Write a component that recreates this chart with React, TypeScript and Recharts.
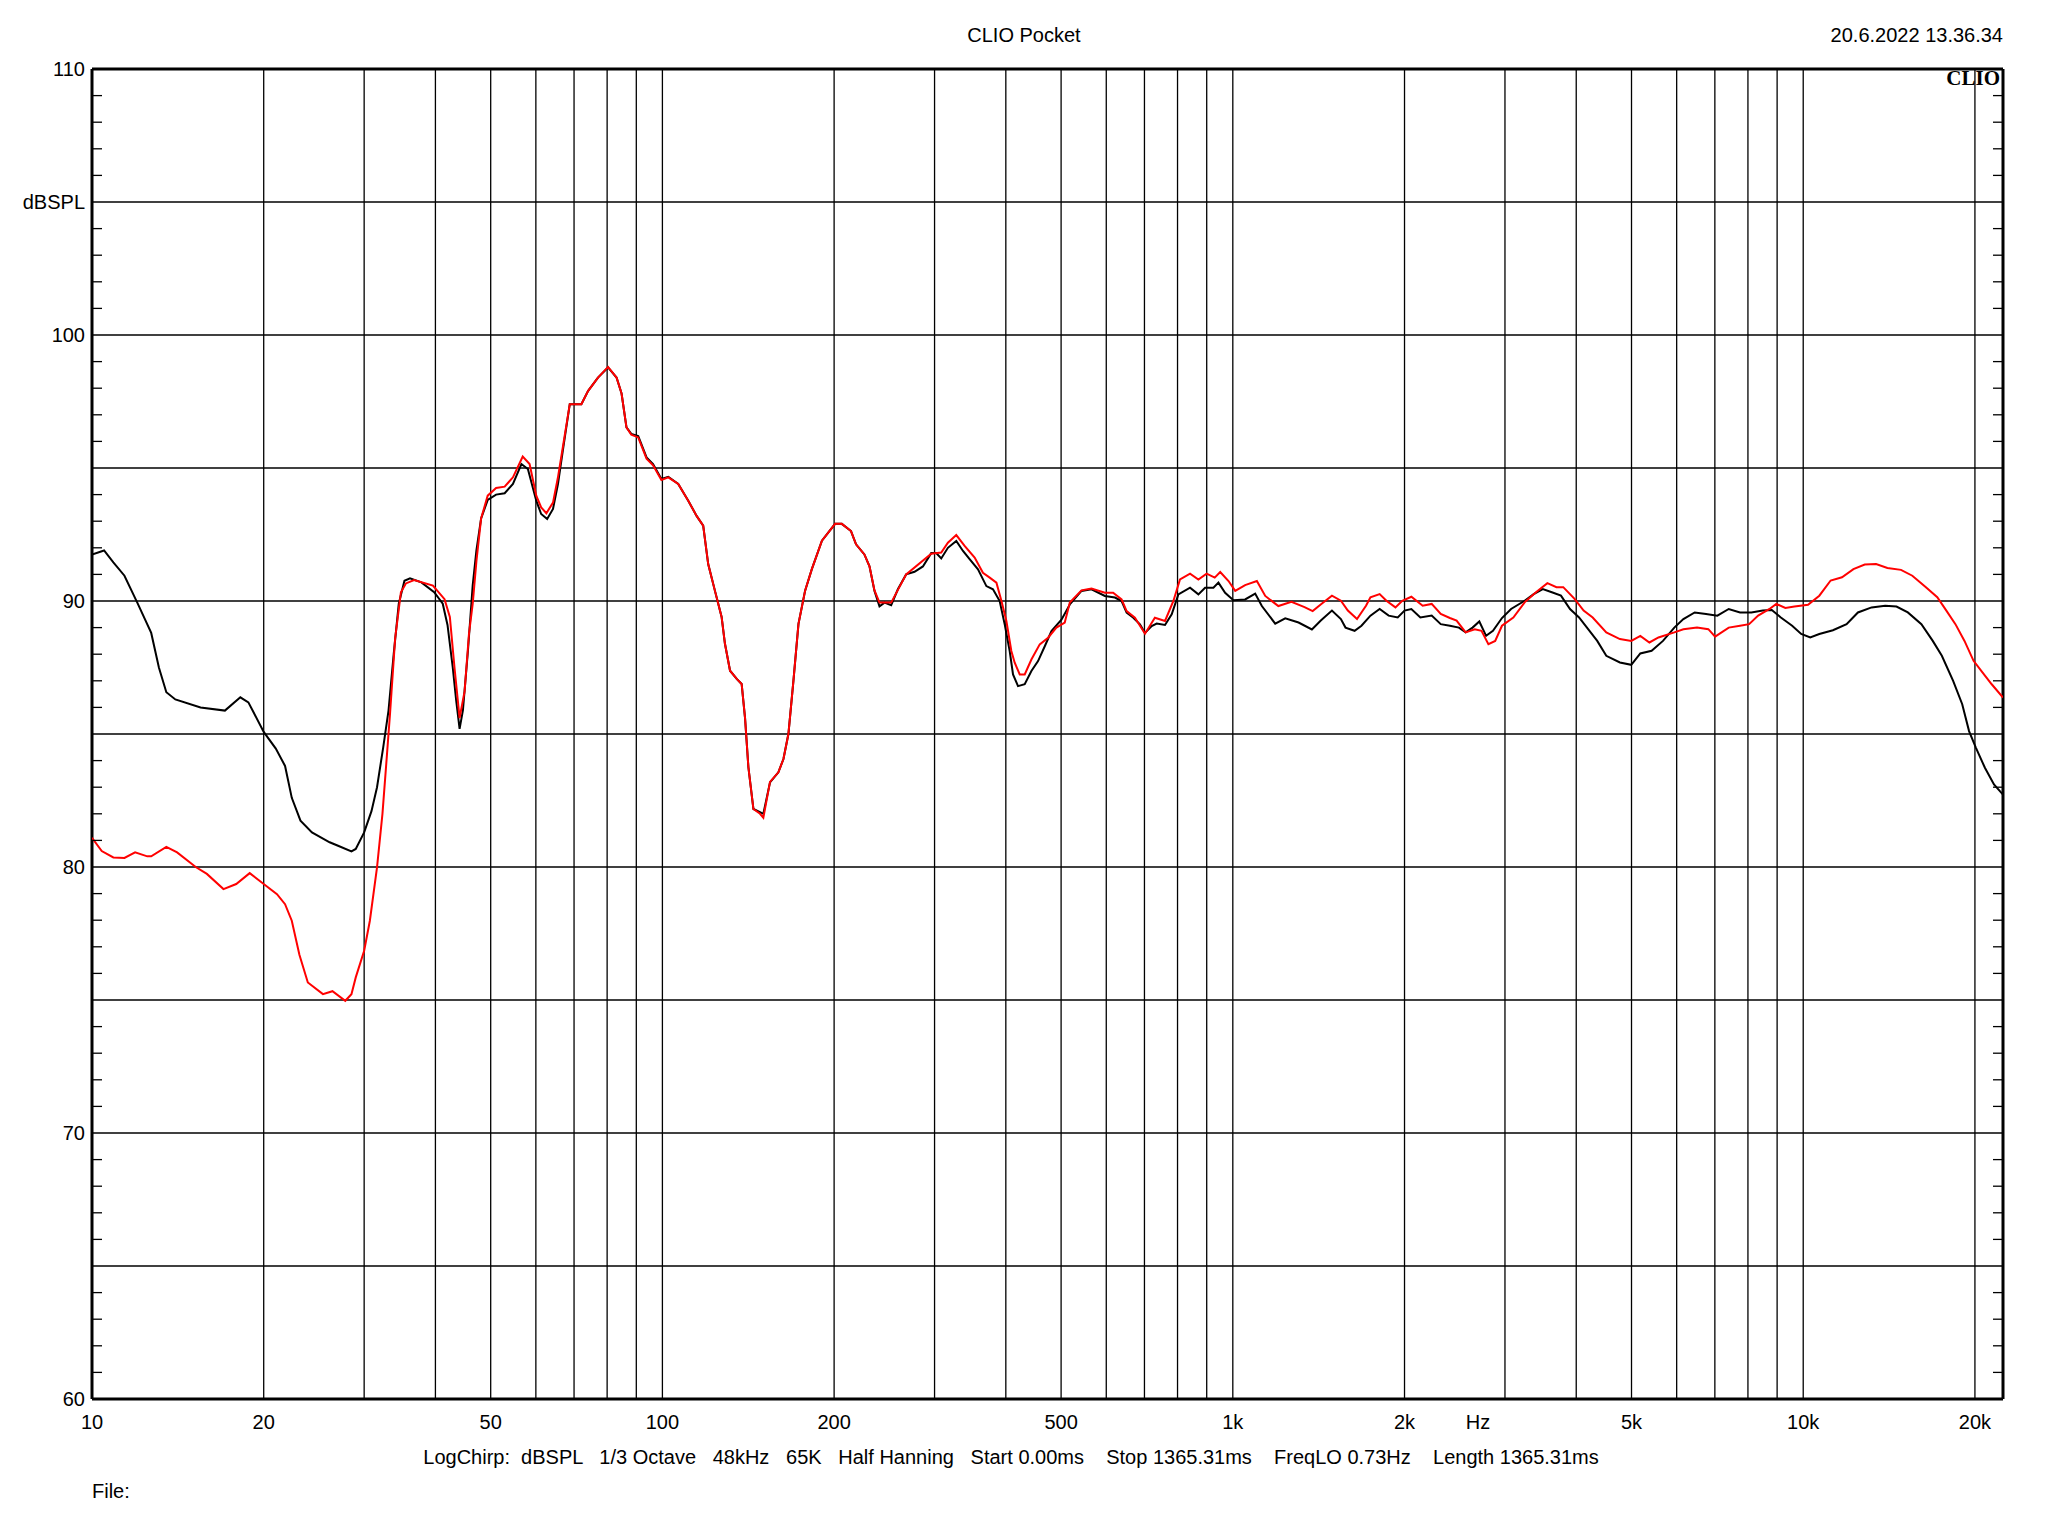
import React from "react"
import { LineChart, Line, XAxis, YAxis, ReferenceLine } from "recharts"

const blackFreq = [
  10, 10.5, 10.9, 11.4, 12.0, 12.7, 13.1, 13.5, 14.0, 15.5, 17.1, 18.2, 18.8, 20.0, 21.0, 21.8, 22.4, 23.2,
  24.3, 26.1, 27.0, 28.5, 29.0, 30.0, 30.9, 31.6, 32.4, 33.1, 33.8, 34.5, 35.3, 36.1, 37.8, 39.8, 41.2, 42.0,
  42.9, 43.5, 44.1, 44.7, 45.6, 46.5, 47.2, 48.1, 49.4, 51.1, 52.9, 54.7, 56.6, 58.1, 60.1, 61.3, 62.8, 64.3,
  65.6, 66.9, 68.8, 72.1, 74.1, 77.1, 80.3, 83.1, 84.8, 86.5, 88.2, 90.7, 93.8, 96.3, 99.6, 102.4, 106.6, 111,
  114.8, 117.9, 120.3, 123.6, 127, 128.7, 131.4, 135, 137.7, 139.6, 141.5, 144.4, 148.3, 150.3, 154.4, 159.7,
  163, 166.3, 169.7, 173.2, 177.9, 182.8, 190.4, 200.8, 206.3, 214.1, 218.5, 226, 230.7, 235.4, 240.2, 245.1,
  251.8, 258.7, 267.5, 276.7, 286.2, 296, 302, 308.2, 316.6, 327.5, 336.5, 345.6, 357.5, 369.8, 379.8, 390.2,
  398.2, 406.3, 411.8, 420.2, 431.7, 443.5, 455.6, 468.1, 480.9, 500.7, 517.9, 542.9, 565.3, 596.7, 621.4,
  638.3, 651.4, 669.2, 687.4, 701.5, 720.7, 735.4, 760.6, 781.4, 802.7, 841.5, 870.3, 894.1, 924.7, 943.6,
  969.4, 1002.6, 1051, 1094.5, 1124.4, 1186.7, 1235.7, 1304, 1376, 1425, 1492, 1547, 1576, 1635, 1681, 1743,
  1809, 1876, 1946, 2000, 2056, 2132, 2232, 2315, 2402, 2491, 2560, 2632, 2705, 2780, 2858, 2964, 3075, 3248,
  3369, 3495, 3625, 3761, 3901, 4046, 4197, 4354, 4516, 4771, 4995, 5181, 5423, 5677, 5943, 6165, 6453, 6755,
  7071, 7403, 7749, 8112, 8492, 8809, 9137, 9563, 9919, 10288, 10671, 11274, 11913, 12472, 13178, 13920,
  14572, 15255, 16114, 16869, 17500, 18316, 19000, 19531, 20074, 20822, 21600, 22400,
]
const blackSpl = [
  91.75, 91.9, 91.45, 90.95, 89.95, 88.8, 87.5, 86.57, 86.3, 86.0, 85.88, 86.38, 86.19, 85.08, 84.45, 83.8, 82.6, 81.74,
  81.3, 80.93, 80.8, 80.59, 80.68, 81.3, 82.1, 83.0, 84.5, 85.88, 88.0, 89.9, 90.76, 90.85, 90.7, 90.33, 89.9, 89.1,
  87.5, 86.25, 85.19, 85.9, 88.1, 90.6, 91.9, 93.1, 93.8, 94.0, 94.05, 94.4, 95.15, 94.96, 93.77, 93.27, 93.08, 93.46,
  94.4, 95.65, 97.4, 97.4, 97.9, 98.4, 98.78, 98.4, 97.8, 96.53, 96.28, 96.2, 95.4, 95.15, 94.59, 94.67, 94.4, 93.77,
  93.2, 92.83, 91.39, 90.39, 89.4, 88.4, 87.38, 87.07, 86.88, 85.6, 83.75, 82.18, 82.06, 82.0, 83.18, 83.56,
  84.06, 85.0, 87.0, 89.14, 90.39, 91.2, 92.27, 92.9, 92.9, 92.63, 92.13, 91.75, 91.3, 90.38, 89.8, 89.94,
  89.84, 90.44, 91.0, 91.1, 91.3, 91.8, 91.8, 91.6, 92.0, 92.26, 91.88, 91.57, 91.19, 90.56, 90.44, 90.0,
  89.12, 88.12, 87.24, 86.8, 86.87, 87.37, 87.74, 88.3, 88.87, 89.3, 89.87, 90.38, 90.44, 90.19, 90.13,
  90.0, 89.56, 89.37, 89.12, 88.8, 89.06, 89.15, 89.1, 89.5, 90.25, 90.5, 90.25, 90.5, 90.5, 90.69,
  90.31, 90.03, 90.06, 90.28, 89.81, 89.15, 89.35, 89.19, 88.93, 89.26, 89.64, 89.32, 89.0, 88.88, 89.07, 89.45,
  89.7, 89.45, 89.38, 89.64, 89.7, 89.38, 89.45, 89.13, 89.07, 89.0, 88.82, 89.0, 89.23, 88.69, 88.88, 89.36, 89.7, 90.01,
  90.26, 90.45, 90.33, 90.2, 89.7, 89.38, 88.94, 88.5, 87.94, 87.69, 87.6, 88.03, 88.13, 88.5, 89.0, 89.32, 89.57, 89.51,
  89.45, 89.7, 89.57, 89.57, 89.64, 89.66, 89.38, 89.07, 88.76, 88.63, 88.76, 88.9, 89.13, 89.57, 89.76, 89.82,
  89.79, 89.57, 89.13, 88.5, 87.94, 87.0, 86.12, 85.11, 84.49, 83.73, 83.1, 82.72,
]

const redFreq = [
  10, 10.4, 10.9, 11.4, 11.9, 12.5, 12.7, 13.5, 14.1, 15.2, 15.9, 17.0, 17.9, 18.9, 20.0, 21.1, 21.8, 22.4,
  23.1, 23.9, 25.4, 26.4, 27.8, 28.5, 29.0, 30.0, 30.7, 31.6, 32.3, 32.9, 33.3, 34.0, 34.8, 35.5, 36.7, 39.6,
  41.5, 42.4, 43.2, 44.1, 45.0, 45.8, 46.5, 47.2, 48.1, 49.4, 51.1, 52.9, 54.7, 56.9, 58.5, 60.1, 61.3, 62.6,
  64.3, 65.6, 66.9, 68.8, 72.1, 74.1, 77.1, 80.3, 83.1, 84.8, 86.5, 88.2, 90.7, 93.8, 96.3, 99.6, 102.4, 106.6,
  111, 114.8, 117.9, 120.3, 123.6, 127, 128.7, 131.4, 135, 137.7, 139.6, 141.5, 144.4, 148.3, 150.3, 154.4,
  159.7, 163, 166.3, 169.7, 173.2, 177.9, 182.8, 190.4, 200.8, 206.3, 214.1, 218.5, 226, 230.7, 235.4, 240.2,
  251.8, 267.5, 296, 308.2, 316.6, 327.5, 338.7, 352.7, 364.7, 374.8, 385.1, 393, 400.9, 409, 414.6, 423.1,
  431.7, 443.5, 458.7, 474.4, 490.6, 507.4, 517.9, 542.9, 565.3, 596.7, 616.9, 638.3, 651.4, 673.6, 701.5,
  730.1, 760.6, 786.7, 808, 841.5, 870.3, 899.7, 929.6, 950.4, 982.9, 1009.7, 1051, 1102, 1139.9, 1201.8, 1267,
  1335.8, 1380.3, 1426, 1492, 1547, 1591, 1651, 1712, 1743, 1809, 1859, 1928, 1982, 2056, 2152, 2232, 2315,
  2402, 2468, 2560, 2656, 2729, 2806, 2884, 2964, 3103, 3248, 3400, 3560, 3693, 3796, 3973, 4121, 4275, 4516,
  4771, 4995, 5181, 5375, 5575, 5943, 6165, 6513, 6818, 7007, 7403, 7749, 8038, 8337, 8728, 8971, 9305, 9652,
  10196, 10671, 11171, 11695, 12247, 12819, 13420, 14048, 14840, 15535, 16410, 17180, 17821, 18486, 19175,
  19890, 20632, 21402, 22400,
]
const redSpl = [
  81.1, 80.6, 80.36, 80.34, 80.55, 80.4, 80.4, 80.76, 80.55, 80.0, 79.74, 79.17, 79.36, 79.77, 79.36, 78.98, 78.6, 77.98,
  76.7, 75.66, 75.22, 75.33, 74.97, 75.22, 75.85, 76.85, 77.98, 79.99, 82.0, 84.25, 85.75, 88.6, 90.33, 90.66, 90.79, 90.58,
  90.07, 89.4, 87.5, 85.6, 86.6, 88.76, 89.9, 91.5, 93.1, 93.96, 94.25, 94.3, 94.65, 95.43, 95.15, 93.96, 93.52, 93.3,
  93.7, 94.65, 95.78, 97.4, 97.4, 97.9, 98.4, 98.8, 98.4, 97.8, 96.53, 96.25, 96.15, 95.35, 95.1, 94.55, 94.65, 94.4,
  93.77, 93.2, 92.83, 91.39, 90.39, 89.4, 88.4, 87.38, 87.07, 86.88, 85.6, 83.75, 82.18, 82.0, 81.85, 83.2,
  83.56, 84.06, 85.0, 87.0, 89.14, 90.39, 91.2, 92.27, 92.9, 92.9, 92.63, 92.13, 91.75, 91.3, 90.4, 89.94,
  89.94, 91.0, 91.78, 91.82, 92.19, 92.48, 92.07, 91.63, 91.06, 90.88, 90.69, 90.0, 89.25, 88.12, 87.68, 87.24,
  87.24, 87.8, 88.37, 88.62, 89.0, 89.19, 89.94, 90.4, 90.47, 90.31, 90.31, 90.06, 89.62, 89.37, 88.77,
  89.37, 89.25, 90.0, 90.81, 91.03, 90.81, 91.03, 90.88, 91.09, 90.75, 90.38, 90.6, 90.75, 90.19, 89.81, 89.97,
  89.77, 89.62, 89.87, 90.2, 90.01, 89.64, 89.32, 89.82, 90.14, 90.26, 90.01, 89.76, 90.01, 90.16, 89.82, 89.89, 89.51,
  89.36, 89.26, 88.82, 88.94, 88.88, 88.38, 88.5, 89.07, 89.38, 89.95, 90.33, 90.67, 90.52, 90.52, 90.08, 89.64, 89.38, 88.82,
  88.57, 88.5, 88.69, 88.44, 88.63, 88.82, 88.94, 89.0, 88.94, 88.66, 89.0, 89.07, 89.13, 89.45, 89.7, 89.89, 89.74, 89.79,
  89.86, 90.2, 90.77, 90.89, 91.2, 91.37, 91.39, 91.24, 91.17, 90.95, 90.52, 90.14, 89.64, 89.13, 88.5,
  87.75, 87.31, 86.87, 86.37,
]

const gridFreqs = [
  20, 30, 40, 50, 60, 70, 80, 90, 100, 200, 300, 400, 500, 600, 700, 800, 900, 1000,
  2000, 3000, 4000, 5000, 6000, 7000, 8000, 9000, 10000, 20000,
]
const freqLabels: Record<number, string> = {
  10: "10", 20: "20", 50: "50", 100: "100", 200: "200", 500: "500",
  1000: "1k", 2000: "2k", 2690: "Hz", 5000: "5k", 10000: "10k", 20000: "20k",
}
const dbGrid = [65, 70, 75, 80, 85, 90, 95, 100, 105]
const dbTicks = Array.from({ length: 51 }, (_, i) => 60 + i)

const F_MIN = 10
const F_MAX = 22400
const W = 2048
const H = 1536
const PLOT_LEFT = 92
const PLOT_RIGHT = 2003
const PLOT_TOP = 69
const PLOT_BOTTOM = 1399
const X_AXIS_H = 40
const FONT = '"Liberation Sans", Arial, sans-serif'

const blackData = blackFreq.map((f, i) => ({ f, spl: blackSpl[i] }))
const redData = redFreq.map((f, i) => ({ f, spl: redSpl[i] }))

const YTick = (props: any) => {
  const { y, payload } = props
  const v = payload.value
  return (
    <g>
      {v % 5 !== 0 && (
        <>
          <line x1={PLOT_LEFT} x2={PLOT_LEFT + 10} y1={y} y2={y} stroke="#000" strokeWidth={1.3} />
          <line x1={PLOT_RIGHT - 10} x2={PLOT_RIGHT} y1={y} y2={y} stroke="#000" strokeWidth={1.3} />
        </>
      )}
      {v % 10 === 0 && (
        <text x={PLOT_LEFT - 7} y={y} dy={7} textAnchor="end" fontSize={20} fontFamily={FONT} fill="#000">
          {v}
        </text>
      )}
      {v === 105 && (
        <text x={PLOT_LEFT - 7} y={y} dy={7} textAnchor="end" fontSize={20} fontFamily={FONT} fill="#000">
          dBSPL
        </text>
      )}
    </g>
  )
}

const XTick = (props: any) => {
  const { x, payload } = props
  const label = freqLabels[payload.value]
  if (!label) return <g />
  return (
    <text x={x} y={PLOT_BOTTOM + 30} textAnchor="middle" fontSize={20} fontFamily={FONT} fill="#000">
      {label}
    </text>
  )
}

export default function App() {
  return (
    <div style={{ position: "absolute", left: 0, top: 0, width: W, height: H, background: "#fff" }}>
      <LineChart
        width={W}
        height={H}
        margin={{ top: PLOT_TOP, right: W - PLOT_RIGHT, left: 12, bottom: H - PLOT_BOTTOM - X_AXIS_H }}
      >
        <XAxis
          dataKey="f"
          type="number"
          scale="log"
          domain={[F_MIN, F_MAX]}
          allowDataOverflow
          ticks={Object.keys(freqLabels).map(Number)}
          interval={0}
          tick={<XTick />}
          tickLine={false}
          axisLine={false}
          height={X_AXIS_H}
        />
        <YAxis
          type="number"
          domain={[60, 110]}
          ticks={dbTicks}
          interval={0}
          tick={<YTick />}
          tickLine={false}
          axisLine={false}
          width={PLOT_LEFT - 12}
          allowDataOverflow
        />
        {gridFreqs.map((f) => (
          <ReferenceLine key={"v" + f} x={f} stroke="#000" strokeWidth={1.3} />
        ))}
        {dbGrid.map((d) => (
          <ReferenceLine key={"h" + d} y={d} stroke="#000" strokeWidth={1.3} />
        ))}
        <ReferenceLine x={F_MIN} stroke="#000" strokeWidth={3} />
        <ReferenceLine x={F_MAX} stroke="#000" strokeWidth={3} />
        <ReferenceLine y={60} stroke="#000" strokeWidth={3} />
        <ReferenceLine y={110} stroke="#000" strokeWidth={3} />
        <Line
          data={blackData}
          dataKey="spl"
          type="linear"
          stroke="#000000"
          strokeWidth={2}
          dot={false}
          isAnimationActive={false}
        />
        <Line
          data={redData}
          dataKey="spl"
          type="linear"
          stroke="#ff0000"
          strokeWidth={2}
          dot={false}
          isAnimationActive={false}
        />
      </LineChart>
      <svg
        width={W}
        height={H}
        style={{ position: "absolute", left: 0, top: 0, pointerEvents: "none" }}
        fontFamily={FONT}
        fontSize={20}
      >
        <text x={1024} y={42} textAnchor="middle">CLIO Pocket</text>
        <text x={PLOT_RIGHT} y={42} textAnchor="end">20.6.2022 13.36.34</text>
        <text
          x={PLOT_RIGHT - 3}
          y={PLOT_TOP + 16}
          textAnchor="end"
          fontFamily='"Liberation Serif", "Times New Roman", serif'
          fontWeight="bold"
          fontSize={21}
        >
          CLIO
        </text>
        <text x={1011} y={1464} textAnchor="middle" style={{ whiteSpace: "pre" }}>
          {"LogChirp:  dBSPL   1/3 Octave   48kHz   65K   Half Hanning   Start 0.00ms    Stop 1365.31ms    FreqLO 0.73Hz    Length 1365.31ms"}
        </text>
        <text x={PLOT_LEFT} y={1498}>File:</text>
      </svg>
    </div>
  )
}
